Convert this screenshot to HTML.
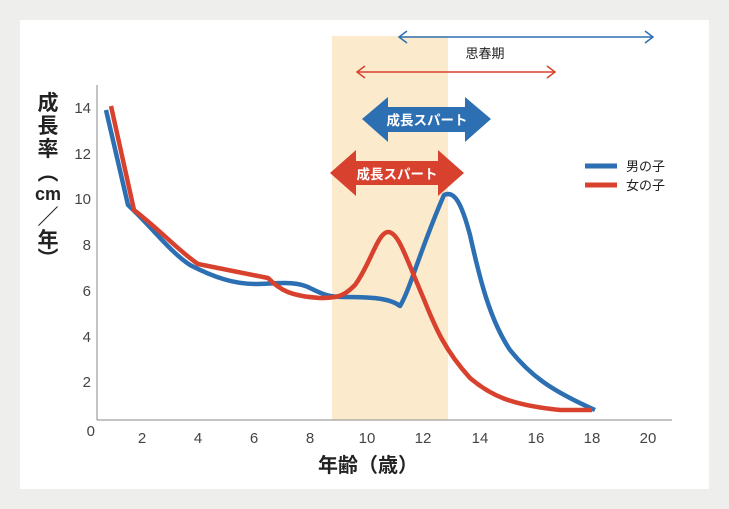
<!DOCTYPE html>
<html><head><meta charset="utf-8"><style>
body{margin:0;width:729px;height:509px;background:#eeeeec;overflow:hidden}
svg{display:block}
text{font-family:"Liberation Sans","Noto Sans CJK JP",sans-serif}
</style></head><body>
<svg width="729" height="509" viewBox="0 0 729 509">
<rect x="20" y="20" width="689" height="469" fill="#fff"/>
<rect x="332" y="36" width="116" height="384" fill="#fbebcc"/>
<line x1="97" y1="85" x2="97" y2="420" stroke="#888" stroke-width="1"/>
<line x1="97" y1="420" x2="672" y2="420" stroke="#888" stroke-width="1"/>
<g font-size="15" fill="#444" text-anchor="end">
<text x="91" y="113">14</text><text x="91" y="159">12</text><text x="91" y="204">10</text>
<text x="91" y="250">8</text><text x="91" y="296">6</text><text x="91" y="342">4</text>
<text x="91" y="387">2</text><text x="95" y="436">0</text></g>
<g font-size="15" fill="#444" text-anchor="middle">
<text x="142" y="443">2</text><text x="198" y="443">4</text><text x="254" y="443">6</text>
<text x="310" y="443">8</text><text x="367" y="443">10</text><text x="423" y="443">12</text>
<text x="480" y="443">14</text><text x="536" y="443">16</text><text x="592" y="443">18</text><text x="648" y="443">20</text></g>
<text x="368" y="472" font-size="20" font-weight="bold" text-anchor="middle" fill="#222">年齢（歳）</text>
<g font-size="21" font-weight="bold" fill="#222" text-anchor="middle">
<text x="48" y="110">成</text><text x="48" y="133">長</text><text x="48" y="156">率</text>
<text x="48" y="180">︵</text>
<text x="48" y="200" font-size="18">cm</text>
<text x="48" y="224">／</text><text x="48" y="247">年</text>
<text x="48" y="266">︶</text></g>
<path d="M106,110 L128,205 C150,225 170,252 190,265 C215,278 235,284 255,284 C275,284 295,280 310,288 C322,294 328,297 345,297 C370,297 390,298 400,306 C410,290 420,250 444,195 C455,190 462,205 470,235 C480,280 490,320 510,350 C530,375 550,390 595,410" fill="none" stroke="#2c6fb2" stroke-width="4.5" stroke-linejoin="round"/>
<path d="M111,106 L134,210 C160,230 180,252 198,264 L268,278 C280,290 290,296 320,298 C340,298 345,295 355,285 C370,265 378,232 388,232 C398,232 405,255 420,290 C432,318 440,345 470,378 C490,395 510,405 560,410 L592,410" fill="none" stroke="#d9412f" stroke-width="4.5" stroke-linejoin="round"/>
<g stroke="#2c6fb2" stroke-width="1.5" fill="none"><line x1="399" y1="37" x2="653" y2="37"/><polyline points="407,31 399,37 407,43"/><polyline points="645,31 653,37 645,43"/></g>
<g stroke="#d9412f" stroke-width="1.5" fill="none"><line x1="357" y1="72" x2="555" y2="72"/><polyline points="365,66 357,72 365,78"/><polyline points="547,66 555,72 547,78"/></g>
<text x="485" y="58" font-size="13" text-anchor="middle" fill="#222">思春期</text>
<polygon points="362,119 388,97 388,107 465,107 465,97 491,119 465,142 465,132 388,132 388,142" fill="#2c6fb2"/>
<text x="427" y="125" font-size="13.5" font-weight="bold" fill="#fff" text-anchor="middle">成長スパート</text>
<polygon points="330,173 356,150 356,161 438,161 438,150 464,173 438,196 438,185 356,185 356,196" fill="#d9412f"/>
<text x="397" y="179" font-size="13.5" font-weight="bold" fill="#fff" text-anchor="middle">成長スパート</text>
<line x1="585" y1="166" x2="617" y2="166" stroke="#2c6fb2" stroke-width="5"/>
<line x1="585" y1="185" x2="617" y2="185" stroke="#d9412f" stroke-width="5"/>
<text x="626" y="171" font-size="13" fill="#222">男の子</text>
<text x="626" y="190" font-size="13" fill="#222">女の子</text>
</svg>
</body></html>
